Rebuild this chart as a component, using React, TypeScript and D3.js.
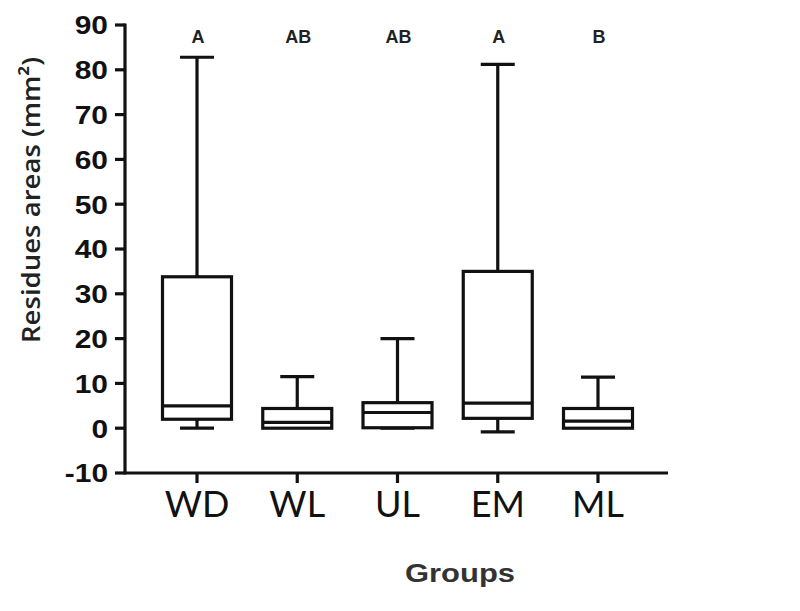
import React from "react";
import * as d3 from "d3";

const groups = ["WD", "WL", "UL", "EM", "ML"];
const minVals = [0, 0, 0, -0.8, 0];
const q1Vals = [2.0, 0, 0.1, 2.2, 0];
const medianVals = [5.0, 1.3, 3.5, 5.6, 1.6];
const q3Vals = [33.8, 4.4, 5.7, 35.0, 4.4];
const maxVals = [82.8, 11.5, 20.0, 81.2, 11.4];
const letters = ["A", "AB", "AB", "A", "B"];
const yTicks = [-10, 0, 10, 20, 30, 40, 50, 60, 70, 80, 90];

const W = 800;
const H = 611;
const axisX = 125;
const axisY = 473;

export default function App() {
  const y = d3.scaleLinear().domain([-10, 90]).range([473, 25]);
  const x = d3.scalePoint<string>().domain(groups).range([197, 598]);
  const boxW = 69;
  const capW = 34;
  const sw = 3.2;
  return (
    <svg width={W} height={H} style={{ position: "absolute", left: 0, top: 0, background: "#fff" }}>
      {/* Y axis */}
      <line x1={axisX} x2={axisX} y1={y(90) - 1.5} y2={axisY + 1.5} stroke="#111" strokeWidth={3.2} />
      {yTicks.map((t) => (
        <g key={t}>
          <line x1={axisX - 10} x2={axisX} y1={y(t)} y2={y(t)} stroke="#111" strokeWidth={3.2} />
          <text
            transform={`translate(108,${y(t)}) scale(1.15,1)`}
            dy="0.36em"
            textAnchor="end"
            fontFamily="Liberation Sans, Arial, sans-serif"
            fontWeight="bold"
            fontSize={26}
            fill="#111"
          >
            {t}
          </text>
        </g>
      ))}
      <text
        transform={`translate(40,${200}) rotate(-90)`}
        textAnchor="middle"
        fontFamily="Open Sans, sans-serif"
        fontWeight={600}
        fontSize={26}
        textLength={286}
        lengthAdjust="spacingAndGlyphs"
        fill="#222"
      >
        Residues areas (mm²)
      </text>
      {/* X axis */}
      <line x1={axisX} x2={668} y1={axisY} y2={axisY} stroke="#111" strokeWidth={3.2} />
      {groups.map((g) => (
        <g key={g}>
          <line x1={x(g)} x2={x(g)} y1={axisY} y2={axisY + 10} stroke="#111" strokeWidth={3.2} />
          <text x={x(g)} y={517} textAnchor="middle" fontFamily="Lato, Open Sans, sans-serif" fontSize={36} fill="#111">
            {g}
          </text>
        </g>
      ))}
      <text
        x={405}
        y={582}
        fontFamily="Liberation Sans, Arial, sans-serif"
        fontWeight="bold"
        fontSize={26}
        textLength={110}
        lengthAdjust="spacingAndGlyphs"
        fill="#333"
      >
        Groups
      </text>
      {/* Boxes */}
      {groups.map((g, i) => {
        const cx = x(g) as number;
        return (
          <g key={g} stroke="#111" strokeWidth={sw} fill="none">
            <line x1={cx} x2={cx} y1={y(maxVals[i])} y2={y(q3Vals[i])} />
            <line x1={cx - capW / 2} x2={cx + capW / 2} y1={y(maxVals[i])} y2={y(maxVals[i])} />
            {minVals[i] < q1Vals[i] && (
              <>
                <line x1={cx} x2={cx} y1={y(q1Vals[i])} y2={y(minVals[i])} />
                <line x1={cx - capW / 2} x2={cx + capW / 2} y1={y(minVals[i])} y2={y(minVals[i])} />
              </>
            )}
            <rect x={cx - boxW / 2} y={y(q3Vals[i])} width={boxW} height={y(q1Vals[i]) - y(q3Vals[i])} fill="#fff" />
            <line x1={cx - boxW / 2} x2={cx + boxW / 2} y1={y(medianVals[i])} y2={y(medianVals[i])} />
          </g>
        );
      })}
      {groups.map((g, i) => (
        <text key={g} x={(x(g) as number) + 1} y={43} textAnchor="middle" fontFamily="Liberation Sans, Arial, sans-serif" fontWeight="bold" fontSize={18} fill="#222">
          {letters[i]}
        </text>
      ))}
    </svg>
  );
}
